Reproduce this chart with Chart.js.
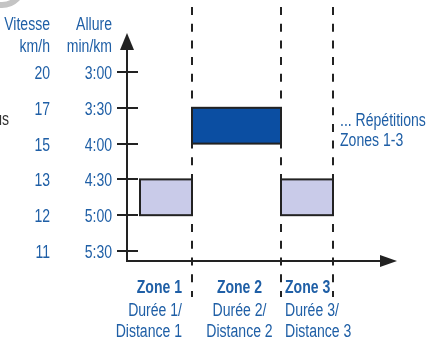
<!DOCTYPE html>
<html>
<head>
<meta charset="utf-8">
<script src="https://cdn.jsdelivr.net/npm/chart.js@4"></script>
<style>body{margin:0;background:#fff}</style>
</head>
<body>
<canvas id="zonesChart" width="431" height="338"></canvas>
<script>
var paceTicks = [3, 3.5, 4, 4.5, 5, 5.5];
var allureLabels = ['3:00', '3:30', '4:00', '4:30', '5:00', '5:30'];
var vitesseLabels = ['20', '17', '15', '13', '12', '11'];
var zoneNames = ['Zone 1', 'Zone 2', 'Zone 3'];
var zoneDurees = ['Durée 1/', 'Durée 2/', 'Durée 3/'];
var zoneDistances = ['Distance 1', 'Distance 2', 'Distance 3'];
var zoneStart = [1.3, 6.5, 15.4];
var zoneEnd = [6.5, 15.4, 20.6];
var zoneFast = [4.5, 3.5, 4.5];
var zoneSlow = [5, 4, 5];

var blue = '#1f5fa6';
var ink = '#222';
var fnt = "'Liberation Sans', Arial, sans-serif";
var squeeze = 0.78;

// condensed text: draw with a horizontal squeeze
function txt(c, s, x, y, align, bold, col) {
    c.save();
    c.font = (bold ? 'bold ' : '') + '18px ' + fnt;
    c.fillStyle = col || blue;
    c.textAlign = align;
    c.translate(x, y);
    c.scale(squeeze, 1);
    c.fillText(s, 0, 0);
    c.restore();
}

var zonesPlugin = {
    id: 'zones',
    afterDraw: function(chart) {
        var c = chart.ctx;
        var xs = chart.scales.x, ys = chart.scales.y;
        var area = chart.chartArea;
        var x0 = area.left, yb = area.bottom;
        c.save();

        // grey ring piece cut at the top left
        c.strokeStyle = '#c4c4c4';
        c.lineWidth = 6;
        c.beginPath();
        c.arc(2, -16, 21, 0, Math.PI);
        c.stroke();

        // boxes
        for (var i = 0; i < zoneNames.length; i++) {
            var l = xs.getPixelForValue(zoneStart[i]);
            var r = xs.getPixelForValue(zoneEnd[i]);
            var t = ys.getPixelForValue(zoneFast[i]);
            var b = ys.getPixelForValue(zoneSlow[i]);
            c.fillStyle = i == 1 ? '#0b4ea2' : '#c9cbe9';
            c.fillRect(l, t, r - l, b - t);
            c.strokeStyle = ink;
            c.lineWidth = 2;
            c.strokeRect(l, t, r - l, b - t);
        }

        // dashed zone limits
        c.setLineDash([8, 8.7]);
        c.lineWidth = 2;
        c.strokeStyle = ink;
        zoneEnd.forEach(function(v) {
            var px = Math.round(xs.getPixelForValue(v));
            c.beginPath();
            c.moveTo(px, 7);
            c.lineTo(px, 297);
            c.stroke();
        });
        c.setLineDash([]);

        // axes
        c.beginPath();
        c.moveTo(x0, area.top + 10);
        c.lineTo(x0, yb);
        c.lineTo(area.right - 10, yb);
        c.stroke();
        c.fillStyle = ink;
        c.beginPath();
        c.moveTo(x0, area.top);
        c.lineTo(x0 - 7, area.top + 17);
        c.lineTo(x0 + 7, area.top + 17);
        c.fill();
        c.beginPath();
        c.moveTo(area.right, yb);
        c.lineTo(area.right - 17, yb - 6);
        c.lineTo(area.right - 17, yb + 6);
        c.fill();

        // ticks + labels
        paceTicks.forEach(function(p, k) {
            var py = Math.round(ys.getPixelForValue(p));
            c.beginPath();
            c.moveTo(x0 - 10, py);
            c.lineTo(x0 + 11, py);
            c.stroke();
            txt(c, allureLabels[k], 112, py + 7, 'right');
            txt(c, vitesseLabels[k], 50, py + 7, 'right');
        });

        txt(c, 'Vitesse', 50, 30, 'right');
        txt(c, 'km/h', 50, 52, 'right');
        txt(c, 'Allure', 112, 30, 'right');
        txt(c, 'min/km', 112, 52, 'right');
        txt(c, 'us', 9, 125, 'right', false, '#333');

        // zone captions
        for (var j = 0; j < zoneNames.length; j++) {
            var zl = xs.getPixelForValue(zoneStart[j]);
            var zr = xs.getPixelForValue(zoneEnd[j]);
            var tx, al;
            if (j == 0) { al = 'right'; tx = zr - 10; }
            else if (j == 1) { al = 'center'; tx = (zl + zr) / 2 + 3; }
            else { al = 'left'; tx = zl + 4; }
            txt(c, zoneNames[j], tx, 293, al, true);
            txt(c, zoneDurees[j], tx, 316, al);
            txt(c, zoneDistances[j], tx, 337, al);
        }

        txt(c, '... Répétitions', 340, 126, 'left');
        txt(c, 'Zones 1-3', 340, 146, 'left');
        c.restore();
    }
};

new Chart(document.getElementById('zonesChart'), {
    type: 'scatter',
    data: { datasets: [{ data: [] }] },
    options: {
        responsive: false,
        animation: false,
        layout: { padding: { left: 127, right: 34, top: 33, bottom: 77 } },
        plugins: { legend: { display: false }, tooltip: { enabled: false } },
        scales: {
            x: { type: 'linear', min: 0, max: 27, display: false },
            y: { type: 'linear', min: 2.455, max: 5.64, reverse: true, display: false }
        }
    },
    plugins: [zonesPlugin]
});
</script>
</body>
</html>
